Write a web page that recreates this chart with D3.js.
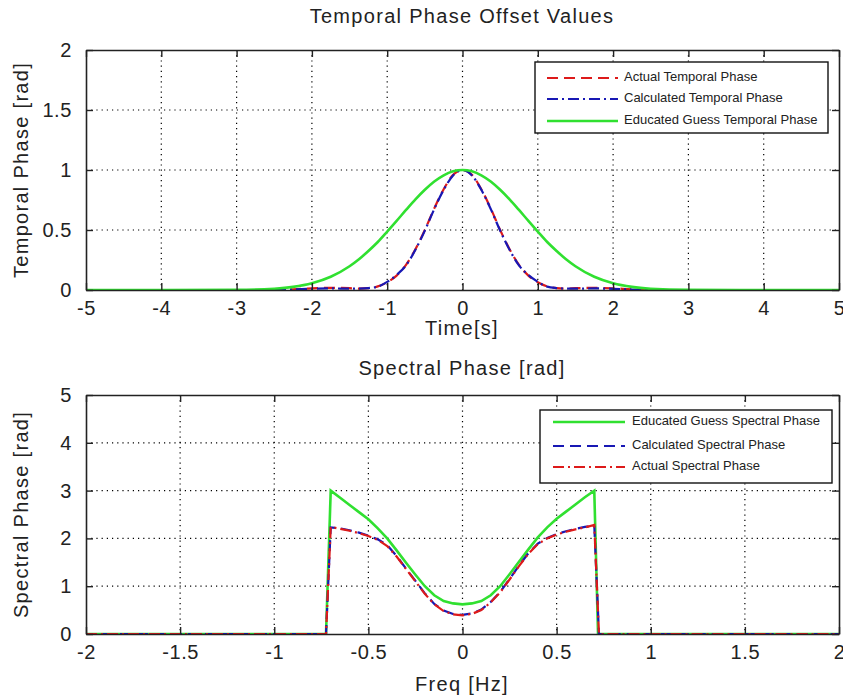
<!DOCTYPE html>
<html><head><meta charset="utf-8">
<script src="https://cdn.jsdelivr.net/npm/d3@7"></script>
<style>
body{margin:0;background:#fff;}
svg{display:block;}
text{font-family:"Liberation Sans",Arial,sans-serif;fill:#222;}
</style></head>
<body><svg id="c" width="843" height="698"></svg>
<script>
// ---------- DATA ----------
const timeVals = [-5,-4,-3,-2.5,-2.25,-2,-1.75,-1.5,-1.375,-1.25,-1.125,-1,-0.875,-0.75,-0.625,-0.5,-0.375,-0.25,-0.125,0,0.125,0.25,0.375,0.5,0.625,0.75,0.875,1,1.125,1.25,1.375,1.5,1.75,2,2.25,2.5,3,4,5];
const actualTemporal = [0,0,0,0,0.005,0.014,0.018,0.015,0.012,0.015,0.03,0.065,0.12,0.21,0.34,0.5,0.68,0.84,0.96,1.0,0.96,0.84,0.68,0.5,0.34,0.21,0.12,0.065,0.03,0.015,0.012,0.015,0.018,0.014,0.005,0,0,0,0];
const calcTemporal   = [0,0,0,0,0.004,0.01,0.013,0.011,0.012,0.016,0.028,0.068,0.125,0.205,0.335,0.495,0.675,0.835,0.955,1.0,0.955,0.835,0.675,0.495,0.335,0.205,0.125,0.068,0.028,0.016,0.012,0.011,0.013,0.01,0.004,0,0,0,0];
const guessTemporal  = [0,0,0.001,0.011,0.026,0.056,0.11,0.198,0.256,0.325,0.40,0.487,0.576,0.667,0.755,0.835,0.904,0.956,0.989,1.0,0.989,0.956,0.904,0.835,0.755,0.667,0.576,0.487,0.40,0.325,0.256,0.198,0.11,0.056,0.026,0.011,0.001,0,0];

const freqGuess = [-2,-0.725,-0.70,-0.65,-0.60,-0.55,-0.50,-0.45,-0.40,-0.35,-0.30,-0.25,-0.20,-0.15,-0.10,-0.05,0,0.05,0.10,0.15,0.20,0.25,0.30,0.35,0.40,0.45,0.50,0.55,0.60,0.65,0.70,0.72,2];
const guessSpectral = [0,0,3.0,2.85,2.70,2.55,2.40,2.21,2.00,1.75,1.49,1.24,1.00,0.81,0.69,0.64,0.62,0.64,0.69,0.81,1.00,1.25,1.51,1.77,2.02,2.23,2.41,2.56,2.71,2.86,3.0,0,0];
const freqVals = [-2,-0.725,-0.70,-0.65,-0.60,-0.55,-0.50,-0.45,-0.40,-0.35,-0.30,-0.25,-0.20,-0.15,-0.10,-0.05,0,0.05,0.10,0.15,0.20,0.25,0.30,0.35,0.40,0.45,0.50,0.55,0.60,0.65,0.70,0.725,2];
const calcSpectral   = [0,0,2.23,2.21,2.17,2.12,2.06,1.98,1.86,1.63,1.37,1.11,0.85,0.63,0.49,0.42,0.40,0.43,0.51,0.67,0.88,1.15,1.43,1.69,1.89,2.01,2.09,2.15,2.20,2.24,2.27,0,0];
const actualSpectral = [0,0,2.24,2.20,2.16,2.11,2.05,1.97,1.84,1.62,1.36,1.10,0.84,0.62,0.48,0.41,0.39,0.42,0.50,0.66,0.87,1.14,1.42,1.68,1.88,2.00,2.08,2.14,2.19,2.23,2.28,0,0];

const topXTicks = [-5,-4,-3,-2,-1,0,1,2,3,4,5];
const topYTicks = [0,0.5,1,1.5,2];
const botXTicks = [-2,-1.5,-1,-0.5,0,0.5,1,1.5,2];
const botYTicks = [0,1,2,3,4,5];

const topLegend = ["Actual Temporal Phase","Calculated Temporal Phase","Educated Guess Temporal Phase"];
const botLegend = ["Educated Guess Spectral Phase","Calculated Spectral Phase","Actual Spectral Phase"];

// ---------- STYLE ----------
const RED="#dd1a1a", BLUE="#1818b4", GREEN="#30e030";
const DASH="11,6", DASHDOT="11,4,2,4";
const svg = d3.select("#c");
const fmt = d => String(d);

function panel(o){
  const g = svg.append("g");
  const x = d3.scaleLinear().domain(o.xd).range([86,839]);
  const y = d3.scaleLinear().domain(o.yd).range([o.bottom,o.top]);
  const id = "clip"+o.top;
  svg.append("clipPath").attr("id",id).append("rect")
    .attr("x",86).attr("y",o.top).attr("width",753).attr("height",o.bottom-o.top);
  // grid
  g.selectAll(".gx").data(o.xt.slice(1,-1)).enter().append("line")
    .attr("x1",d=>x(d)).attr("x2",d=>x(d)).attr("y1",o.top).attr("y2",o.bottom)
    .attr("stroke","#000").attr("stroke-width",1.2).attr("stroke-dasharray","1.2,4");
  g.selectAll(".gy").data(o.yt.slice(1,-1)).enter().append("line")
    .attr("y1",d=>y(d)).attr("y2",d=>y(d)).attr("x1",86).attr("x2",839)
    .attr("stroke","#000").attr("stroke-width",1.2).attr("stroke-dasharray","1.2,4");
  // series
  const dg = g.append("g").attr("clip-path",`url(#${id})`);
  o.series.forEach(s=>{
    const pts = s.x.map((v,i)=>[v,s.y[i]]);
    dg.append("path").datum(pts)
      .attr("d",d3.line().x(d=>x(d[0])).y(d=>y(d[1])).curve(s.curve))
      .attr("fill","none").attr("stroke",s.color).attr("stroke-width",s.w)
      .attr("stroke-dasharray",s.dash||null);
  });
  // axes (MATLAB box, inward ticks)
  g.append("g").attr("transform",`translate(0,${o.bottom})`)
    .call(d3.axisBottom(x).tickValues(o.xt).tickSizeInner(-7).tickSizeOuter(0).tickPadding(11).tickFormat(fmt));
  g.append("g").attr("transform",`translate(0,${o.top})`)
    .call(d3.axisTop(x).tickValues(o.xt).tickSizeInner(-7).tickSizeOuter(0).tickFormat(""));
  g.append("g").attr("transform",`translate(86,0)`)
    .call(d3.axisLeft(y).tickValues(o.yt).tickSizeInner(-7).tickSizeOuter(0).tickPadding(14).tickFormat(fmt));
  g.append("g").attr("transform",`translate(839,0)`)
    .call(d3.axisRight(y).tickValues(o.yt).tickSizeInner(-7).tickSizeOuter(0).tickFormat(""));
  g.selectAll(".domain").attr("stroke","#222").attr("stroke-width",1.6);
  g.selectAll(".tick line").attr("stroke","#222").attr("stroke-width",1.4);
  g.selectAll(".tick text").style("font-size","20px").style("letter-spacing","0.6px")
    .style("font-family","Liberation Sans, Arial, sans-serif").attr("fill","#222");
  // labels
  const lab = sel => sel.attr("text-anchor","middle").attr("dominant-baseline","middle")
    .style("font-size","20px").style("letter-spacing","1.3px");
  lab(svg.append("text").attr("x",462).attr("y",o.titleY)).text(o.title);
  lab(svg.append("text").attr("x",462).attr("y",o.xlabY)).text(o.xlabel);
  lab(svg.append("text").attr("transform",`translate(23,${(o.top+o.bottom)/2}) rotate(-90)`)).text(o.ylabel);
  // legend
  const L = o.legend;
  const lg = svg.append("g");
  lg.append("rect").attr("x",L.x).attr("y",L.y).attr("width",L.w).attr("height",L.h)
    .attr("fill","#fff").attr("stroke","#111").attr("stroke-width",1.4);
  L.items.forEach((it,i)=>{
    const yy = L.y + L.rows[i];
    lg.append("line").attr("x1",L.lx0).attr("x2",L.lx1).attr("y1",yy).attr("y2",yy)
      .attr("stroke",it.color).attr("stroke-width",it.w).attr("stroke-dasharray",it.dash||null);
    lg.append("text").attr("x",L.tx).attr("y",yy).attr("dominant-baseline","middle")
      .style("font-size","13px").text(it.label);
  });
}

panel({
  xd:[-5,5], yd:[0,2], top:50, bottom:290, xt:topXTicks, yt:topYTicks,
  title:"Temporal Phase Offset Values", titleY:18, xlabel:"Time[s]", ylabel:"Temporal Phase [rad]", xlabY:330,
  series:[
    {x:timeVals,y:actualTemporal,color:RED,w:2.2,dash:DASH,curve:d3.curveMonotoneX},
    {x:timeVals,y:calcTemporal,color:BLUE,w:2.2,dash:DASHDOT,curve:d3.curveMonotoneX},
    {x:timeVals,y:guessTemporal,color:GREEN,w:2.6,curve:d3.curveMonotoneX}
  ],
  legend:{x:535,y:62,w:293,h:71,rows:[16,37,59],lx0:547,lx1:618,tx:624,
    items:[
      {label:topLegend[0],color:RED,w:2.2,dash:DASH},
      {label:topLegend[1],color:BLUE,w:2.2,dash:DASHDOT},
      {label:topLegend[2],color:GREEN,w:2.6}
    ]}
});

panel({
  xd:[-2,2], yd:[0,5], top:395, bottom:634, xt:botXTicks, yt:botYTicks,
  title:"Spectral Phase [rad]", titleY:370, xlabel:"Freq [Hz]", ylabel:"Spectral Phase [rad]", xlabY:686,
  series:[
    {x:freqGuess,y:guessSpectral,color:GREEN,w:2.6,curve:d3.curveLinear},
    {x:freqVals,y:calcSpectral,color:BLUE,w:2.2,dash:DASH,curve:d3.curveLinear},
    {x:freqVals,y:actualSpectral,color:RED,w:2.2,dash:DASHDOT,curve:d3.curveLinear}
  ],
  legend:{x:540,y:410,w:292,h:73,rows:[12,36,57],lx0:553,lx1:625,tx:632,
    items:[
      {label:botLegend[0],color:GREEN,w:2.6},
      {label:botLegend[1],color:BLUE,w:2.2,dash:DASH},
      {label:botLegend[2],color:RED,w:2.2,dash:DASHDOT}
    ]}
});
</script></body></html>
